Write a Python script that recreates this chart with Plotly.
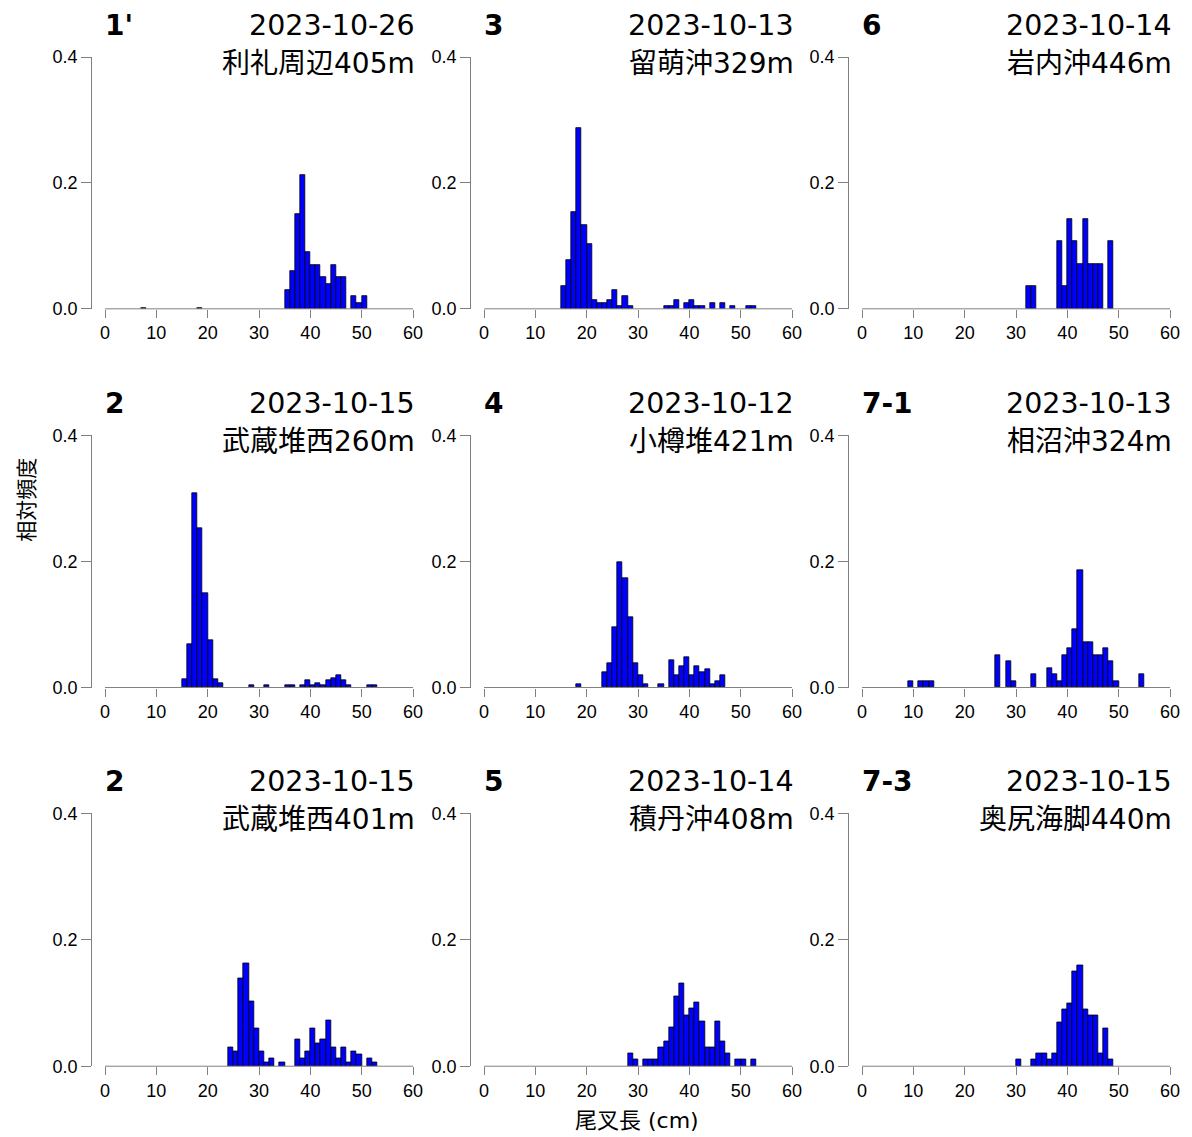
import plotly.graph_objects as go

# ---------------- data (bin left edge in cm, relative frequency) ----------------
panel_ids = ["1'", "3", "6", "2", "4", "7-1", "2", "5", "7-3"]
dates = ["2023-10-26", "2023-10-13", "2023-10-14",
         "2023-10-15", "2023-10-12", "2023-10-13",
         "2023-10-15", "2023-10-14", "2023-10-15"]
places = ["利礼周辺405m", "留萌沖329m", "岩内沖446m",
          "武蔵堆西260m", "小樽堆421m", "相沼沖324m",
          "武蔵堆西401m", "積丹沖408m", "奥尻海脚440m"]

len_1 = [7, 18, 35, 36, 37, 38, 39, 40, 41, 42, 43, 44, 45, 46, 48, 49, 50]
freq_1 = [0.002, 0.002, 0.030, 0.060, 0.151, 0.212, 0.090, 0.070, 0.070, 0.050,
          0.040, 0.070, 0.050, 0.050, 0.020, 0.010, 0.020]

len_2 = [15, 16, 17, 18, 19, 20, 21, 22, 23, 24, 25, 26, 27, 28,
         35, 36, 37, 39, 40, 41, 42, 44, 46, 48, 51, 52]
freq_2 = [0.036, 0.077, 0.154, 0.288, 0.133, 0.103, 0.014, 0.0095, 0.0095, 0.014,
          0.030, 0.0048, 0.021, 0.0048,
          0.0048, 0.0048, 0.014, 0.0095, 0.014, 0.0048, 0.0048, 0.0095, 0.0095,
          0.0048, 0.0048, 0.0048]

len_3 = [32, 33, 38, 39, 40, 41, 42, 43, 44, 45, 46, 48]
freq_3 = [0.036, 0.036, 0.107, 0.036, 0.143, 0.107, 0.071, 0.143, 0.071, 0.071,
          0.071, 0.107]

len_4 = [15, 16, 17, 18, 19, 20, 21, 22, 28, 31, 35, 36, 38, 39, 40, 41, 42, 43,
         44, 45, 46, 47, 51, 52]
freq_4 = [0.013, 0.068, 0.308, 0.253, 0.150, 0.075, 0.013, 0.007, 0.004, 0.004,
          0.004, 0.004, 0.004, 0.011, 0.004, 0.007, 0.004, 0.011, 0.015, 0.019,
          0.011, 0.004, 0.004, 0.004]

len_5 = [18, 23, 24, 25, 26, 27, 28, 29, 30, 31, 34, 36, 37, 38, 39, 40, 41, 42,
         43, 44, 45, 46]
freq_5 = [0.005, 0.024, 0.038, 0.096, 0.198, 0.174, 0.111, 0.038, 0.019, 0.005,
          0.005, 0.044, 0.019, 0.034, 0.048, 0.019, 0.034, 0.024, 0.029, 0.005,
          0.010, 0.019]

len_6 = [9, 11, 12, 13, 26, 28, 29, 33, 36, 37, 38, 39, 40, 41, 42, 43, 44, 45,
         46, 47, 48, 49, 54]
freq_6 = [0.010, 0.010, 0.010, 0.010, 0.052, 0.041, 0.010, 0.021, 0.031, 0.021,
          0.010, 0.052, 0.062, 0.093, 0.186, 0.072, 0.072, 0.052, 0.052, 0.062,
          0.041, 0.010, 0.021]

len_7 = [24, 25, 26, 27, 28, 29, 30, 31, 32, 34, 37, 38, 39, 40, 41, 42, 43, 44,
         45, 46, 47, 48, 49, 51, 52]
freq_7 = [0.030, 0.024, 0.139, 0.163, 0.103, 0.060, 0.024, 0.006, 0.012, 0.006,
          0.042, 0.012, 0.024, 0.060, 0.036, 0.042, 0.072, 0.030, 0.012, 0.030,
          0.006, 0.024, 0.018, 0.012, 0.006]

len_8 = [28, 29, 31, 32, 33, 34, 35, 36, 37, 38, 39, 40, 41, 42, 43, 44, 45, 46,
         47, 49, 50, 52]
freq_8 = [0.020, 0.010, 0.010, 0.010, 0.010, 0.030, 0.040, 0.061, 0.111, 0.131,
          0.081, 0.091, 0.101, 0.071, 0.030, 0.030, 0.071, 0.040, 0.020, 0.010,
          0.010, 0.010]

len_9 = [30, 33, 34, 35, 36, 37, 38, 39, 40, 41, 42, 43, 44, 45, 46, 47, 48]
freq_9 = [0.01, 0.01, 0.02, 0.02, 0.01, 0.02, 0.07, 0.09, 0.10, 0.15, 0.16, 0.09,
          0.08, 0.08, 0.02, 0.06, 0.01]

lengths = [len_1, len_2, len_3, len_4, len_5, len_6, len_7, len_8, len_9]
freqs = [freq_1, freq_2, freq_3, freq_4, freq_5, freq_6, freq_7, freq_8, freq_9]

x_ticks = [0, 10, 20, 30, 40, 50, 60]
y_ticks = [0.0, 0.2, 0.4]
y_ticktext = ["0.0", "0.2", "0.4"]
x_title = "尾叉長 (cm)"
y_title = "相対頻度"

# ---------------- layout geometry (target screen pixels) ----------------
W, H = 1192, 1137
# calibration of the page placement observed in the renderer
OFF_X = 8.0
OFF_Y, SCALE_Y = 16.94, 0.9832

X_RANGE = [-2.5, 62.5]
Y_RANGE = [0.0, 0.4]
col_left = [92.2, 471.2, 849.2]
plot_w = 333.7
row_top = [56.0, 434.5, 813.0]
row_bot = [308.0, 687.0, 1066.0]

AXIS_GREY = "#808080"
CJK = "Noto Sans CJK JP"
TITLE_FONT = "DejaVu Sans, Noto Sans CJK JP"
LAT = "Liberation Sans"


def px_x(p):
    return (p - OFF_X) / W


def px_y(p):
    return 1 - ((p - OFF_Y) / SCALE_Y) / H


fig = go.Figure()
layout = dict(
    width=W, height=H,
    margin=dict(l=0, r=0, t=0, b=0),
    paper_bgcolor="white", plot_bgcolor="white",
    showlegend=False, bargap=0,
)
annotations = []
shapes = []

for i in range(9):
    r, c = divmod(i, 3)
    n = "" if i == 0 else str(i + 1)
    xa, ya = "xaxis" + n, "yaxis" + n
    xr, yr = "x" + n, "y" + n

    fig.add_trace(go.Bar(
        x=lengths[i], y=freqs[i], width=1, offset=0,
        marker=dict(color="#0000FF", line=dict(color="#000000", width=0.8)),
        xaxis=xr, yaxis=yr, hoverinfo="x+y",
    ))

    layout[xa] = dict(
        domain=[px_x(col_left[c]), px_x(col_left[c] + plot_w)],
        anchor=yr, range=X_RANGE, tickvals=x_ticks,
        ticks="outside", ticklen=8, tickcolor=AXIS_GREY, tickwidth=1,
        showline=False, showgrid=False, zeroline=False,
        tickfont=dict(family=LAT, size=18, color="#000000"),
    )
    layout[ya] = dict(
        domain=[px_y(row_bot[r]), px_y(row_top[r])],
        anchor=xr, range=Y_RANGE, tickvals=y_ticks, ticktext=y_ticktext,
        ticks="outside", ticklen=10, tickcolor=AXIS_GREY, tickwidth=1,
        showline=True, linecolor=AXIS_GREY, linewidth=1,
        showgrid=False, zeroline=False,
        tickfont=dict(family=LAT, size=18, color="#000000"),
    )

    # x axis line from 0 to 60 (R style), placed in domain fractions of the axis
    span = X_RANGE[1] - X_RANGE[0]
    shapes.append(dict(
        type="line", xref=xr + " domain", yref=yr + " domain",
        x0=(x_ticks[0] - X_RANGE[0]) / span, x1=(x_ticks[-1] - X_RANGE[0]) / span,
        y0=0, y1=0, line=dict(color=AXIS_GREY, width=1),
    ))

    x0px = col_left[c] + plot_w * (0 - X_RANGE[0]) / span
    x60px = col_left[c] + plot_w * (60 - X_RANGE[0]) / span
    annotations.append(dict(
        text="<b>" + panel_ids[i] + "</b>", x=px_x(x0px - 2), y=px_y(row_top[r] - 32),
        xref="paper", yref="paper", xanchor="left", yanchor="middle",
        showarrow=False, font=dict(family=TITLE_FONT, size=28, color="#000000"),
    ))
    annotations.append(dict(
        text=dates[i], x=px_x(x60px + 4), y=px_y(row_top[r] - 32),
        xref="paper", yref="paper", xanchor="right", yanchor="middle",
        showarrow=False, font=dict(family=TITLE_FONT, size=28.5, color="#000000"),
    ))
    annotations.append(dict(
        text=places[i], x=px_x(x60px + 4), y=px_y(row_top[r] + 6),
        xref="paper", yref="paper", xanchor="right", yanchor="middle",
        showarrow=False, font=dict(family=TITLE_FONT, size=28, color="#000000"),
    ))

annotations.append(dict(
    text=x_title, x=px_x(637), y=px_y(1120), xref="paper", yref="paper",
    xanchor="center", yanchor="middle", showarrow=False,
    font=dict(family=TITLE_FONT, size=22, color="#000000"),
))
annotations.append(dict(
    text=y_title, x=0.0, y=px_y(499), xref="paper", yref="paper",
    xanchor="left", yanchor="middle", showarrow=False, textangle=-90,
    font=dict(family=CJK, size=21, color="#000000"),
))

layout["annotations"] = annotations
layout["shapes"] = shapes
fig.update_layout(**layout)
fig.write_html("out.html")
